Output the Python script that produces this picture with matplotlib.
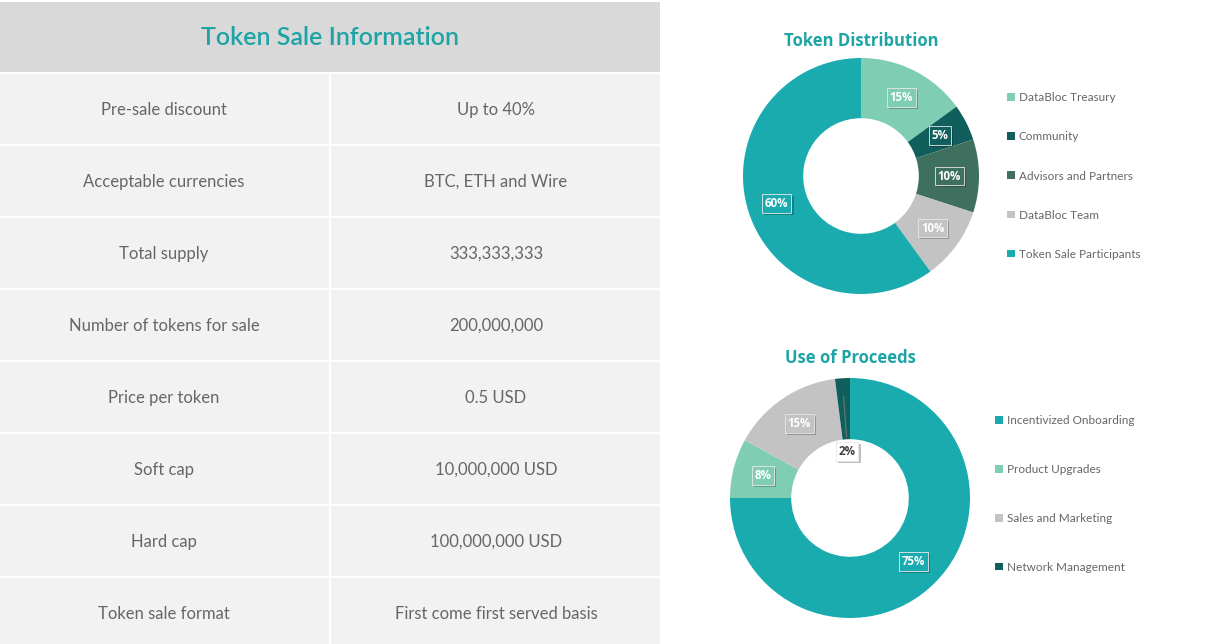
import matplotlib
matplotlib.use("Agg")
import matplotlib.pyplot as plt
from matplotlib.patches import Rectangle
import matplotlib.patheffects as pe
import numpy as np

# ---- data ----
table_title = "Token Sale Information"
row_labels = ["Pre-sale discount", "Acceptable currencies", "Total supply",
              "Number of tokens for sale", "Price per token", "Soft cap",
              "Hard cap", "Token sale format"]
row_values = ["Up to 40%", "BTC, ETH and Wire", "333,333,333", "200,000,000",
              "0.5 USD", "10,000,000 USD", "100,000,000 USD",
              "First come first served basis"]

dist_title = "Token Distribution"
dist_labels = ["DataBloc Treasury", "Community", "Advisors and Partners",
               "DataBloc Team", "Token Sale Participants"]
dist_values = [15, 5, 10, 10, 60]
dist_colors = ["#7fcdb2", "#105f5c", "#3f6f5f", "#c3c3c3", "#1aabaf"]

proc_title = "Use of Proceeds"
proc_labels = ["Incentivized Onboarding", "Product Upgrades",
               "Sales and Marketing", "Network Management"]
proc_values = [75, 8, 15, 2]
proc_colors = ["#1aabaf", "#7fcdb2", "#c3c3c3", "#105f5c"]

TEAL = "#1fa4a6"
GRAY_TXT = "#666666"

W, H = 1230, 644
fig = plt.figure(figsize=(W / 100, H / 100), dpi=100)
fig.patch.set_facecolor("white")

# ---- table (drawn in pixel coords) ----
tab = fig.add_axes([0, 0, 1, 1])
tab.set_xlim(0, W)
tab.set_ylim(H, 0)
tab.axis("off")

tab.add_patch(Rectangle((0, 2), 660, 70, color="#d9d9d9", lw=0))
tab.text(330, 37, table_title, ha="center", va="center", color=TEAL,
         fontsize=18, family="Lato", fontweight="semibold")

row_h = 72
top = 74
for i, (lab, val) in enumerate(zip(row_labels, row_values)):
    y0 = top + i * row_h
    h = min(row_h - 2, H - y0)
    tab.add_patch(Rectangle((0, y0), 329, h, color="#f2f2f2", lw=0))
    tab.add_patch(Rectangle((331, y0), 329, h, color="#f2f2f2", lw=0))
    yc = y0 + 36
    tab.text(164, yc, lab, ha="center", va="center", color=GRAY_TXT,
             fontsize=12, family="Lato")
    tab.text(496, yc, val, ha="center", va="center", color=GRAY_TXT,
             fontsize=12, family="Lato")


def donut(cx, cy, r, values, colors, labels, title, title_y, leg_x, leg_y, leg_spacing):
    ax = fig.add_axes([(cx - r) / W, 1 - (cy + r) / H, 2 * r / W, 2 * r / H])
    wedges, _, autotexts = ax.pie(
        values, colors=colors, startangle=90, counterclock=False,
        wedgeprops=dict(width=0.51, edgecolor="none"),
        autopct="%d%%", pctdistance=0.75,
        textprops=dict(color="white", fontsize=8.3, fontweight="bold",
                       family="Open Sans"))
    ax.set_xlim(-1, 1)
    ax.set_ylim(-1, 1)
    ax.set_aspect("equal")
    for w, t in zip(wedges, autotexts):
        t.set_bbox(dict(boxstyle="square,pad=0.25", fc=w.get_facecolor(),
                        ec="#e8e8e8", lw=0.6))
        t.get_bbox_patch().set_path_effects(
            [pe.SimplePatchShadow(offset=(1.5, -1.5), alpha=0.35), pe.Normal()])
    fig.text(cx / W, 1 - title_y / H, title, ha="center", va="center",
             color=TEAL, fontsize=12, fontweight="bold", family="Open Sans")
    fig.legend(wedges, labels, loc="center left",
               bbox_to_anchor=(leg_x / W, 1 - leg_y / H),
               frameon=False, labelcolor=GRAY_TXT,
               handlelength=0.65, handleheight=0.65, handletextpad=0.35,
               labelspacing=leg_spacing, borderpad=0, borderaxespad=0,
               prop=dict(family="Lato", size=8.5))
    return ax, wedges, autotexts


donut(861, 176, 118, dist_values, dist_colors, dist_labels, dist_title,
      41, 1007, 176, 2.38)

ax2, w2, t2 = donut(850, 498, 120, proc_values, proc_colors, proc_labels,
                    proc_title, 358, 995, 494, 3.2)

# small 2% slice: label pulled into the hole with a leader line
w = w2[3]
ang = np.deg2rad((w.theta1 + w.theta2) / 2)
t2[3].set_position((0.39 * np.cos(ang), 0.39 * np.sin(ang)))
t2[3].set_color("#404040")
t2[3].get_bbox_patch().set_facecolor("white")
ax2.plot([0.47 * np.cos(ang), 0.85 * np.cos(ang)],
         [0.47 * np.sin(ang) + 0.04, 0.85 * np.sin(ang)],
         color="#7a7a7a", lw=0.7)

fig.savefig("out.png", dpi=100)
